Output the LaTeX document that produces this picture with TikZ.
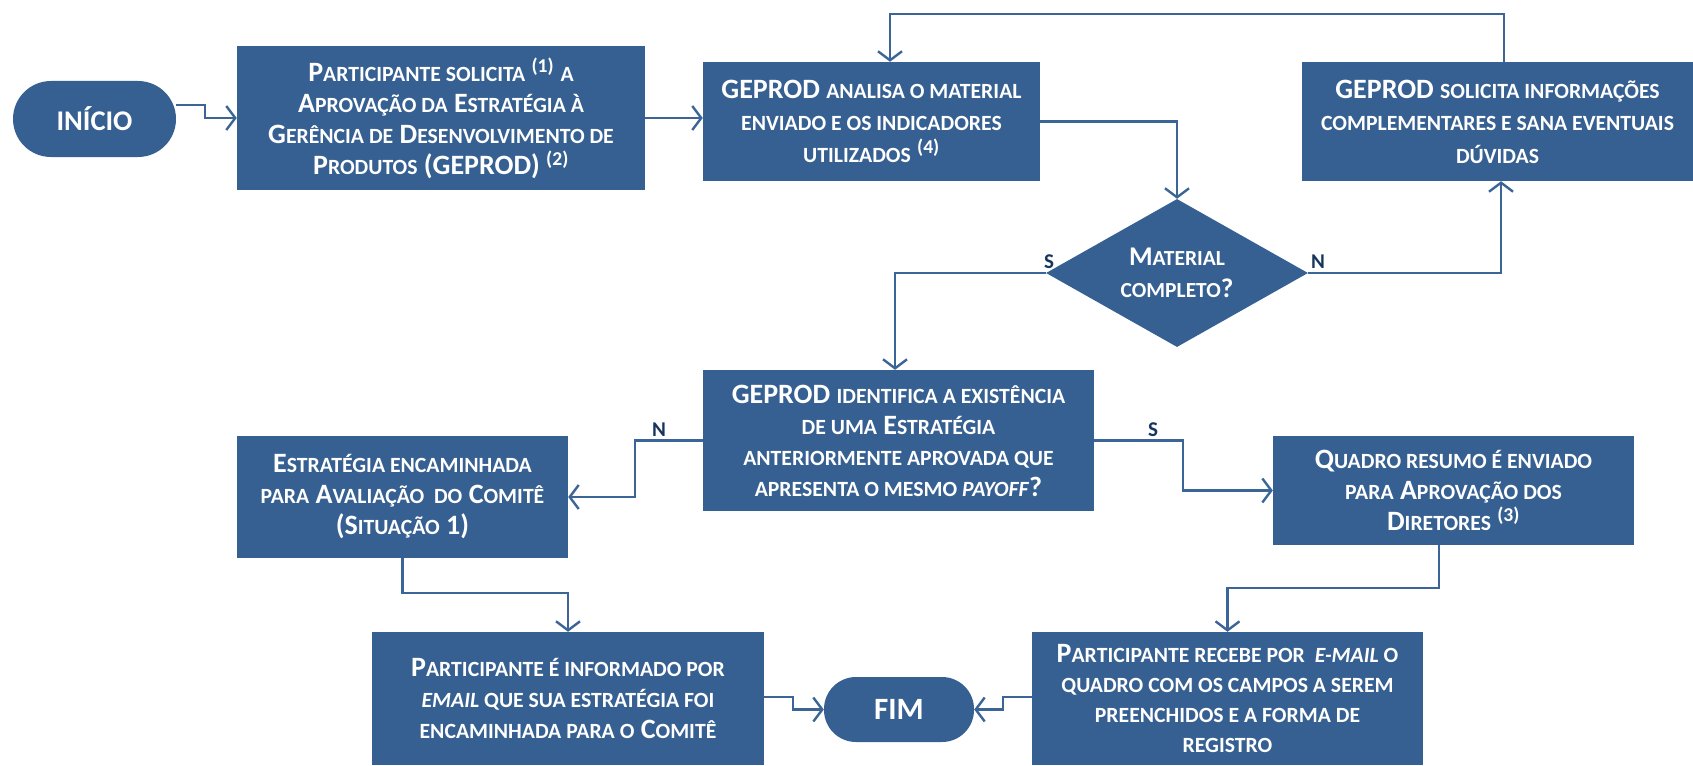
\documentclass[tikz,border=0pt]{standalone}
\usepackage{fontspec}
\setmainfont{Carlito}
\usepackage{tikz}
\usetikzlibrary{arrows.meta,shapes.geometric}
\definecolor{boxblue}{RGB}{54,96,146}
\definecolor{lineblue}{RGB}{58,101,150}
\definecolor{navy}{RGB}{23,54,93}
%% lower case letters drawn as small capitals
\newcommand{\sml}[1]{{\fontsize{21.7}{31}\selectfont\MakeUppercase{#1}}}
\newcommand{\smlb}[1]{{\fontsize{21.7}{29.7}\selectfont\MakeUppercase{#1}}}

\begin{document}
\begin{tikzpicture}[x=1pt,y=-1pt,
	proc/.style={draw=none,fill=boxblue,text=white,font=\bfseries\fontsize{28}{31}\selectfont,align=center,inner sep=0pt},
	term/.style={proc,rounded corners=#1},
	dec/.style={proc,diamond,aspect=1.77},
	lab/.style={text=navy,font=\bfseries\fontsize{21}{24}\selectfont,inner sep=0pt},
	arr/.style={draw=lineblue,line width=2.4pt,-{Straight Barb[length=9pt,width=24pt]}}]
	\useasboundingbox (0,0) rectangle (1693,765);
	%top row placed by hand
	\node[term=38pt,minimum width=163pt,minimum height=76pt,font=\bfseries\fontsize{28.5}{31}\selectfont] (ini) at (94.5,119){INÍCIO};
	\node[proc,minimum width=408pt,minimum height=144pt] (p1) at (441,118){P\sml{articipante solicita} \textsuperscript{(1)} \sml{a}\\A\sml{provação da} E\sml{stratégia à}\\G\sml{erência de} D\sml{esenvolvimento de}\\P\sml{rodutos} (GEPROD) \textsuperscript{(2)}};
	\node[proc,minimum width=337pt,minimum height=119pt,font=\bfseries\fontsize{28}{32}\selectfont] (p2) at (871.5,121.5){GEPROD \sml{analisa o material}\\\sml{enviado e os indicadores}\\\sml{utilizados} \textsuperscript{(4)}};
	\node[proc,minimum width=391pt,minimum height=119pt,font=\bfseries\fontsize{28}{32.5}\selectfont] (p3) at (1497.5,121.5){GEPROD \sml{solicita informações}\\\sml{complementares e sana eventuais}\\\sml{dúvidas}};
	\node[dec,minimum width=262pt,minimum height=148pt,font=\bfseries\fontsize{27}{32}\selectfont] (d1) at (1177,273){M{\fontsize{21.5}{32}\selectfont ATERIAL}\\{\fontsize{21.5}{32}\selectfont COMPLETO}?};
	%% middle row
	\node[proc,minimum width=391pt,minimum height=141pt] (p4) at (898.5,440.5){GEPROD \sml{identifica a existência}\\\sml{de uma} E\sml{stratégia}\\\sml{anteriormente aprovada que}\\\sml{apresenta o mesmo \textit{payoff}}?};
	\node[proc,minimum width=331pt,minimum height=122pt] (p5) at (402.5,497){E\sml{stratégia encaminhada}\\\sml{para} A\sml{valiação\ \ do} C\sml{omitê}\\(S\sml{ituação} 1)};
	\node[proc,minimum width=361pt,minimum height=109pt] (p6) at (1453.5,490.5){Q\sml{uadro resumo é enviado}\\\sml{para} A\sml{provação dos}\\D\sml{iretores} \textsuperscript{(3)}};
	%% bottom row
	\node[proc,minimum width=392pt,minimum height=133pt] (p7) at (568,698.5){P\sml{articipante é informado por}\\\sml{\textit{email} que sua estratégia foi}\\\sml{encaminhada para o} C\sml{omitê}};
	\node[term=32pt,minimum width=150pt,minimum height=65pt,font=\bfseries\fontsize{31}{31}\selectfont] (fim) at (899,709.5){FIM};
	\node[proc,minimum width=391pt,minimum height=133pt,font=\bfseries\fontsize{28}{29.7}\selectfont] (p8) at (1227.5,698.5){P\smlb{articipante recebe por\ \ \textit{e-mail} o}\\\smlb{quadro com os campos a serem}\\\smlb{preenchidos e a forma de}\\\smlb{registro}};
	%% connectors
	\draw[arr] ([yshift=14pt]ini.east) -- ++(29,0) |- (p1.west);
	\draw[arr] (p1.east) -- (p1.east -| p2.west);
	\draw[arr] (p2.east) -| (d1.north);
	\draw[arr] (d1.east) -| ([xshift=3.5pt]p3.south);
	\draw[arr] ([xshift=6.5pt]p3.north) -- ++(0,-48) -| ([xshift=18.5pt]p2.north);
	\draw[arr] (d1.west) -| ([xshift=-3.5pt]p4.north);
	\draw[arr] (p4.west) -- ++(-68,0) |- (p5.east);
	\draw[arr] (p4.east) -- ++(89,0) |- (p6.west);
	\draw[arr] (p5.south) -- ++(0,35) -| (p7.north);
	\draw[arr] ([xshift=-14.5pt]p6.south) -- ++(0,43) -| (p8.north);
	\draw[arr] ([yshift=1.5pt]p7.east) -- ++(29,0) |- (fim.west);
	\draw[arr] ([yshift=1.5pt]p8.west) -- ++(-29,0) |- (fim.east);
	%% yes / no labels
	\node[lab] (s1) at (1049,262){S};
	\node[lab] (n1) at (1318,262){N};
	\node[lab] (n2) at (659,430){N};
	\node[lab] (s2) at (1153,430){S};
\end{tikzpicture}
\end{document}
